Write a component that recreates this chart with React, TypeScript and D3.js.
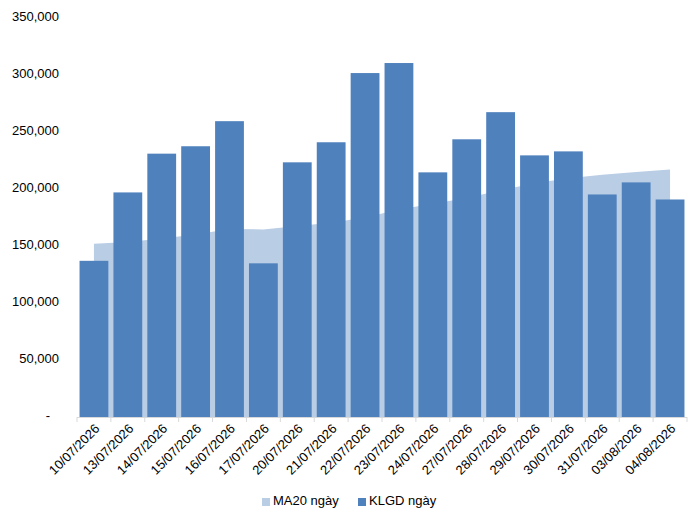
import { useEffect, useRef } from 'react';
import * as d3 from 'd3';

// Trading days (category axis)
const dates = [
  '10/07/2026', '13/07/2026', '14/07/2026', '15/07/2026', '16/07/2026', '17/07/2026',
  '20/07/2026', '21/07/2026', '22/07/2026', '23/07/2026', '24/07/2026', '27/07/2026',
  '28/07/2026', '29/07/2026', '30/07/2026', '31/07/2026', '03/08/2026', '04/08/2026',
];

// Daily trading volume (KLGD ngày)
const volume = [
  137000, 197000, 231000, 237500, 259500, 134800, 223400, 241000, 301700,
  310500, 214600, 243600, 267400, 229500, 233000, 195200, 205800, 190800,
];

// 20-day moving average (MA20 ngày)
const ma20 = [
  152000, 153500, 156500, 160000, 165000, 164500, 167500, 170500, 175000,
  182000, 187000, 192000, 199000, 205000, 209500, 212500, 215000, 217000,
];

const yTicks = [0, 50000, 100000, 150000, 200000, 250000, 300000, 350000];

const WIDTH = 696;
const HEIGHT = 516;
const FONT = 'Arial, "Liberation Sans", sans-serif';

export default function App() {
  const svgRef = useRef<SVGSVGElement>(null);

  useEffect(() => {
    if (!svgRef.current) return;
    const svg = d3.select(svgRef.current);
    svg.selectAll('*').remove();

    const left = 77;
    const right = 687;
    const top = 18;
    const bottom = 417;

    const x = d3.scaleBand<string>().domain(dates).range([left, right]).paddingInner(0.15).paddingOuter(0.075);
    const xCenter = d3.scaleBand<string>().domain(dates).range([left, right]);
    const y = d3.scaleLinear().domain([0, 350000]).range([bottom, top]);

    // --- MA20 area (behind bars) ---
    const area = d3
      .area<number>()
      .x((_, i) => (xCenter(dates[i]) ?? 0) + xCenter.bandwidth() / 2)
      .y0(y(0))
      .y1((d) => y(d));

    svg.append('path').datum(ma20).attr('d', area).attr('fill', '#B9CDE5');

    // --- Volume bars ---
    svg
      .selectAll('.bar')
      .data(volume)
      .enter()
      .append('rect')
      .attr('x', (_, i) => x(dates[i]) ?? 0)
      .attr('y', (d) => y(d))
      .attr('width', x.bandwidth())
      .attr('height', (d) => y(0) - y(d))
      .attr('fill', '#4F81BD');

    // --- X axis ---
    svg
      .append('line')
      .attr('x1', left)
      .attr('x2', right)
      .attr('y1', bottom + 0.5)
      .attr('y2', bottom + 0.5)
      .attr('stroke', '#D9D9D9')
      .attr('stroke-width', 1);

    const tickXs = dates.map((d) => xCenter(d) ?? 0).concat([right]);
    tickXs.forEach((tx) => {
      svg
        .append('line')
        .attr('x1', tx)
        .attr('x2', tx)
        .attr('y1', bottom)
        .attr('y2', bottom + 5)
        .attr('stroke', '#D9D9D9')
        .attr('stroke-width', 1);
    });

    dates.forEach((d) => {
      const cx = (xCenter(d) ?? 0) + xCenter.bandwidth() / 2;
      svg
        .append('text')
        .attr('transform', `translate(${cx + 4},${bottom + 10}) rotate(-45)`)
        .attr('text-anchor', 'end')
        .attr('dominant-baseline', 'middle')
        .attr('font-family', FONT)
        .attr('font-size', '13px')
        .attr('fill', '#000')
        .text(d);
    });

    // --- Y axis labels ---
    const fmt = d3.format(',');
    yTicks.forEach((t) => {
      svg
        .append('text')
        .attr('x', t === 0 ? 50 : 59)
        .attr('y', y(t))
        .attr('text-anchor', 'end')
        .attr('dominant-baseline', 'middle')
        .attr('font-family', FONT)
        .attr('font-size', '13px')
        .attr('fill', '#000')
        .text(t === 0 ? '-' : fmt(t));
    });

    // --- Legend ---
    const legend = [
      { label: 'MA20 ngày', color: '#B9CDE5', x: 262 },
      { label: 'KLGD ngày', color: '#4F81BD', x: 358 },
    ];
    legend.forEach((l) => {
      svg
        .append('rect')
        .attr('x', l.x)
        .attr('y', 498)
        .attr('width', 8)
        .attr('height', 8)
        .attr('fill', l.color);
      svg
        .append('text')
        .attr('x', l.x + 11)
        .attr('y', 502)
        .attr('dominant-baseline', 'middle')
        .attr('font-family', FONT)
        .attr('font-size', '13px')
        .attr('fill', '#000')
        .text(l.label);
    });
  }, []);

  return <svg ref={svgRef} width={WIDTH} height={HEIGHT} style={{ position: 'absolute', left: 0, top: 0 }} />;
}
